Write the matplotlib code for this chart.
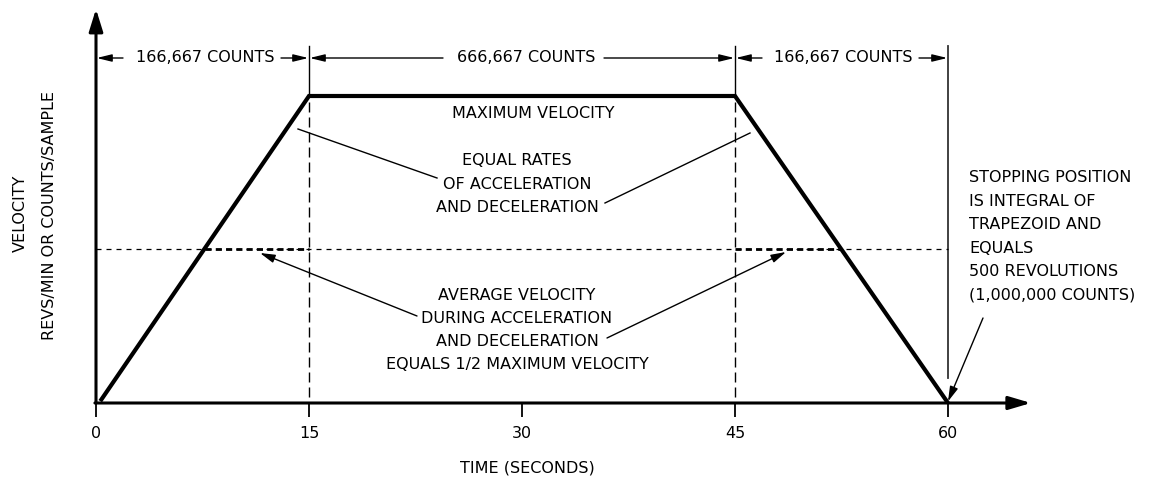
import matplotlib
matplotlib.use("Agg")
import matplotlib.pyplot as plt

# ---------------- data ----------------
profile_time = [0.3, 15.0, 45.0, 60.0]        # seconds
profile_velocity = [0.006, 1.0, 1.0, 0.0]      # fraction of maximum velocity
avg_velocity = 0.5                             # 1/2 maximum velocity
x_ticks = [0, 15, 30, 45, 60]
x_tick_labels = ["0", "15", "30", "45", "60"]
segment_bounds = [0, 15, 45, 60]
segment_labels = ["166,667 COUNTS", "666,667 COUNTS", "166,667 COUNTS"]
x_label = "TIME (SECONDS)"
y_label_1 = "VELOCITY"
y_label_2 = "REVS/MIN OR COUNTS/SAMPLE"
max_vel_text = "MAXIMUM VELOCITY"
equal_rates_lines = ["EQUAL RATES", "OF ACCELERATION", "AND DECELERATION"]
average_lines = ["AVERAGE VELOCITY", "DURING ACCELERATION",
                 "AND DECELERATION", "EQUALS 1/2 MAXIMUM VELOCITY"]
stopping_lines = ["STOPPING POSITION", "IS INTEGRAL OF", "TRAPEZOID AND",
                  "EQUALS", "500 REVOLUTIONS", "(1,000,000 COUNTS)"]

# ---------------- figure / scales ----------------
W, H = 1160, 479
fig = plt.figure(figsize=(W / 100, H / 100), dpi=100)
ax = fig.add_axes([0, 0, 1, 1])
X0, SX = 96.0, 14.2      # pixel of t=0, pixels per second
Y0, SY = 403.0, 307.0    # pixel of v=0, pixels per max velocity


def X(px):
    return (px - X0) / SX


def Y(py):
    return (Y0 - py) / SY


ax.set_xlim(X(0), X(W))
ax.set_ylim(Y(H), Y(0))
ax.axis("off")

FONT = "DejaVu Sans"
FS = 11.5
K = "black"

# axes with arrows
ax.annotate("", xy=(0, Y(9)), xytext=(0, 0),
            arrowprops=dict(arrowstyle="-|>,head_length=1.35,head_width=0.42",
                            lw=2.2, color=K, shrinkA=0, shrinkB=0))
ax.annotate("", xy=(X(1031), 0), xytext=(X(94.9), 0),
            arrowprops=dict(arrowstyle="-|>,head_length=1.35,head_width=0.40",
                            lw=2.2, color=K, shrinkA=0, shrinkB=0))

# ticks
for t, lab in zip(x_ticks, x_tick_labels):
    ax.plot([t, t], [0, Y(417)], color=K, lw=1.3, solid_capstyle="butt")
    ax.text(t, Y(433), lab, ha="center", va="center", fontsize=FS, family=FONT)

ax.text(X(527), Y(468), x_label, ha="center", va="center", fontsize=FS, family=FONT)
ax.text(X(20), Y(213), y_label_1, ha="center", va="center", rotation=90,
        fontsize=FS, family=FONT)
ax.text(X(50), Y(216), y_label_2, ha="center", va="center", rotation=90,
        fontsize=FS, family=FONT)

# trapezoid
ax.plot(profile_time, profile_velocity, color=K, lw=3.0, solid_capstyle="butt",
        solid_joinstyle="miter", zorder=5)

# vertical extension lines
for t in segment_bounds[1:3]:
    ax.plot([t, t], [Y(46), 1.0], color=K, lw=1.0)
    ax.plot([t, t], [Y(397), 1.0], color=K, lw=1.0, dashes=(7.2, 3.6))
ax.plot([segment_bounds[3]] * 2, [Y(46), Y(378)], color="#333333", lw=1.3)

# half velocity dashed lines
ax.plot([0, 60], [avg_velocity, avg_velocity], color=K, lw=0.9, dashes=(4, 4))
ax.plot([profile_time[0] + (15 - profile_time[0]) * avg_velocity, 15],
        [avg_velocity, avg_velocity], color=K, lw=2.0, dashes=(2.2, 1.5), zorder=4)
ax.plot([45, 45 + 15 * avg_velocity], [avg_velocity, avg_velocity],
        color=K, lw=2.0, dashes=(2.2, 1.5), zorder=4)

# dimension lines
dim_y = Y(58)
small = dict(arrowstyle="-|>,head_length=0.9,head_width=0.22", lw=1.0, color=K,
             shrinkA=0, shrinkB=0)
text_spans = [(133, 277), (453, 600), (772, 915)]
for (a, b), lab, (ta, tb) in zip(zip(segment_bounds[:-1], segment_bounds[1:]),
                                 segment_labels, text_spans):
    ax.annotate("", xy=(a + 0.05, dim_y), xytext=(X(ta - 10), dim_y), arrowprops=small)
    ax.annotate("", xy=(b - 0.05, dim_y), xytext=(X(tb + 4), dim_y), arrowprops=small)
    ax.text(X((ta + tb) / 2), dim_y, lab, ha="center", va="center",
            fontsize=FS, family=FONT)

# maximum velocity label
ax.text(X(533), Y(114), max_vel_text, ha="center", va="center", fontsize=FS, family=FONT)

# equal rates
for i, line in enumerate(equal_rates_lines):
    ax.text(X(517), Y(161 + 23.2 * i), line, ha="center", va="center",
            fontsize=FS, family=FONT)
ax.plot([X(298), X(437)], [Y(129), Y(178)], color=K, lw=1.0)
ax.plot([X(605), X(750)], [Y(203), Y(133)], color=K, lw=1.0)

# average velocity
for i, line in enumerate(average_lines):
    ax.text(X(517), Y(295 + 23.3 * i), line, ha="center", va="center",
            fontsize=FS, family=FONT)
mid = dict(arrowstyle="-|>,head_length=0.9,head_width=0.25", lw=1.0, color=K,
           shrinkA=0, shrinkB=0)
ax.annotate("", xy=(X(260), Y(253)), xytext=(X(417), Y(316)), arrowprops=mid)
ax.annotate("", xy=(X(786), Y(252)), xytext=(X(607), Y(338)), arrowprops=mid)

# stopping position
for i, line in enumerate(stopping_lines):
    ax.text(X(969), Y(178 + 23.4 * i), line, ha="left", va="center",
            fontsize=FS, family=FONT)
ax.annotate("", xy=(60, 0.005), xytext=(X(983), Y(318)), arrowprops=mid)

fig.savefig("out.png", dpi=100)
